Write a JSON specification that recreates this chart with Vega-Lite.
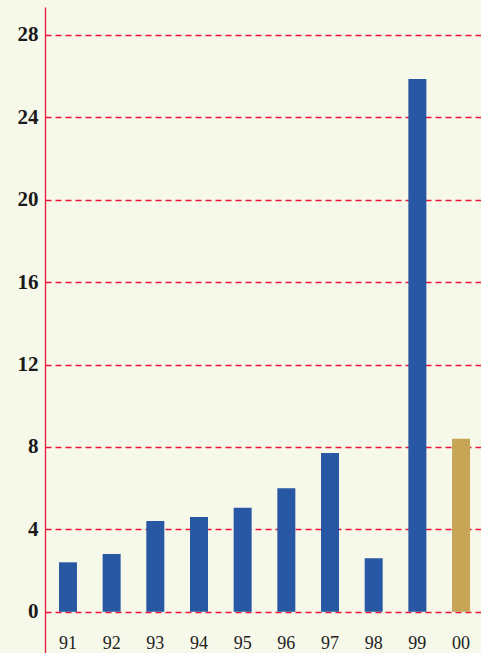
{
  "$schema": "https://vega.github.io/schema/vega-lite/v6.json",
  "width": 439,
  "height": 646,
  "autosize": "none",
  "padding": {"left": 45, "top": 7, "right": 0, "bottom": 0},
  "background": "#f6f8e9",
  "config": {
    "view": {"stroke": null},
    "font": "Times New Roman, Liberation Serif, serif"
  },
  "data": {
    "values": [
      {"year": "91", "value": 2.4, "kind": "past"},
      {"year": "92", "value": 2.8, "kind": "past"},
      {"year": "93", "value": 4.4, "kind": "past"},
      {"year": "94", "value": 4.6, "kind": "past"},
      {"year": "95", "value": 5.05, "kind": "past"},
      {"year": "96", "value": 6.0, "kind": "past"},
      {"year": "97", "value": 7.7, "kind": "past"},
      {"year": "98", "value": 2.6, "kind": "past"},
      {"year": "99", "value": 25.85, "kind": "past"},
      {"year": "00", "value": 8.4, "kind": "current"}
    ]
  },
  "mark": {"type": "bar"},
  "encoding": {
    "x": {
      "field": "year",
      "type": "nominal",
      "sort": null,
      "scale": {"paddingInner": 0.588, "paddingOuter": 0.32},
      "axis": {
        "title": null,
        "domain": false,
        "ticks": false,
        "tickSize": 0,
        "labelAngle": 0,
        "labelPadding": 0,
        "offset": -5,
        "labelBaseline": "alphabetic",
        "labelFont": "Times New Roman, Liberation Serif, serif",
        "labelFontSize": 18,
        "labelColor": "#222222",
        "grid": false
      }
    },
    "y": {
      "field": "value",
      "type": "quantitative",
      "scale": {"domain": [-2, 29.35], "nice": false, "zero": false},
      "axis": {
        "title": null,
        "values": [0, 4, 8, 12, 16, 20, 24, 28],
        "domain": true,
        "domainColor": "#e8173c",
        "domainWidth": 1.3,
        "ticks": false,
        "tickSize": 0,
        "labelPadding": 7,
        "labelFont": "Times New Roman, Liberation Serif, serif",
        "labelFontSize": 21,
        "labelFontWeight": "bold",
        "labelColor": "#1a1a1a",
        "grid": true,
        "gridColor": "#ee1438",
        "gridDash": [6, 4],
        "gridWidth": 1.4,
        "gridOpacity": 1
      }
    },
    "color": {
      "field": "kind",
      "type": "nominal",
      "scale": {"domain": ["past", "current"], "range": ["#2857a4", "#c6a556"]},
      "legend": null
    }
  }
}
